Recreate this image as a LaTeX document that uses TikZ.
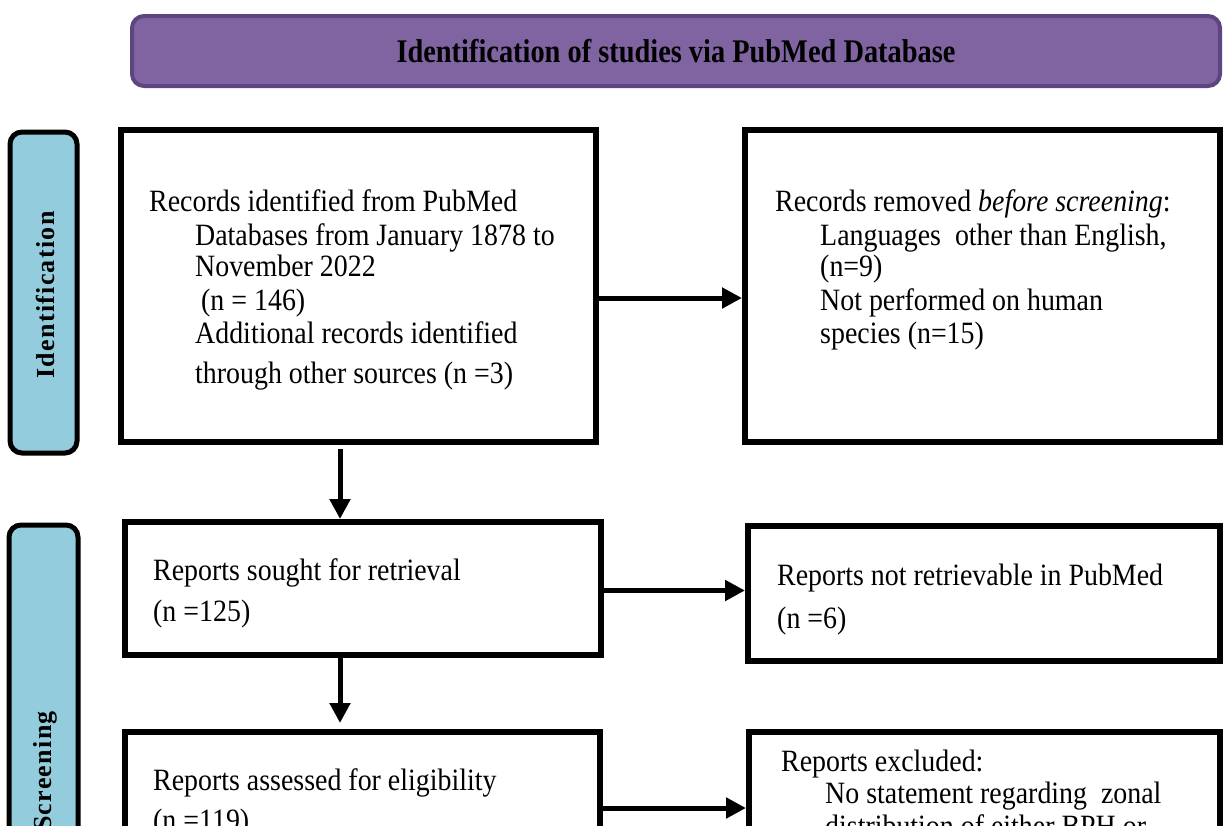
\documentclass[tikz,border=0pt]{standalone}
\usepackage{fontspec}
\setmainfont{Liberation Serif}[FakeStretch=0.9]
\newfontfamily\bannerfont{Liberation Serif}[FakeStretch=0.86]
\newfontfamily\sidefont{Liberation Serif}[LetterSpace=5]
\usetikzlibrary{arrows.meta}
\definecolor{bannerfill}{HTML}{8064A2}
\definecolor{bannerdraw}{HTML}{5C4681}
\definecolor{sidefill}{HTML}{93CDDD}
\tikzset{
  flowbox/.style={draw=black, line width=6pt, fill=white, inner sep=0pt},
  sidebox/.style={draw=black, line width=5pt, fill=sidefill, rounded corners=12pt, inner sep=0pt},
  banner/.style={draw=bannerdraw, line width=4pt, fill=bannerfill, rounded corners=12pt, inner sep=0pt,
     font=\bannerfont\bfseries\fontsize{33}{36}\selectfont},
  txt/.style={anchor=base west, inner sep=0pt, font=\fontsize{31}{34}\selectfont},
  sidetxt/.style={rotate=90, inner sep=0pt, font=\sidefont\bfseries\fontsize{26}{30}\selectfont},
  arr/.style={line width=5pt, -{Triangle[length=20pt,width=20pt]}},
}
\begin{document}
\begin{tikzpicture}[x=1pt,y=-1pt]
\useasboundingbox (0,0) rectangle (1225,825);
\clip (0,0) rectangle (1225,825);
\fill[white] (0,0) rectangle (1225,825);

% banner
\node[banner, minimum width=1088pt, minimum height=70pt] (ban) at (676,51) {Identification of studies via PubMed Database};

% side labels
\node[sidebox, minimum width=67pt, minimum height=321pt] (lab1) at (43.5,292.5) {};
\node[sidetxt] (lab1t) at (45,295) {Identification};
\node[sidebox, minimum width=69pt, minimum height=505pt] (lab2) at (43.5,777.5) {};
\node[sidetxt] (lab2t) at (45,771) {Screening};

% boxes
\node[flowbox, minimum width=475pt, minimum height=312pt] (b1) at (358,286) {};
\node[flowbox, minimum width=475pt, minimum height=312pt] (b2) at (982.5,286) {};
\node[flowbox, minimum width=476pt, minimum height=133pt] (b3) at (363,588.5) {};
\node[flowbox, minimum width=472pt, minimum height=135pt] (b4) at (984,593.5) {};
\node[flowbox, minimum width=475pt, minimum height=228pt] (b5) at (362.5,846) {};
\node[flowbox, minimum width=471pt, minimum height=228pt] (b6) at (984.5,846) {};

% texts box1
\node[txt] (t1a) at (149,211) {Records identified from PubMed};
\node[txt] (t1b) at (195,245) {Databases from January 1878 to};
\node[txt] (t1c) at (195,276) {November 2022};
\node[txt] (t1d) at (201,310) {(n = 146)};
\node[txt] (t1e) at (195,343) {Additional records identified};
\node[txt] (t1f) at (195,383) {through other sources (n =3)};

% texts box2
\node[txt] (t2a) at (775,211) {Records removed \textit{before screening}:};
\node[txt] (t2b) at (820,245) {Languages\ \ other than English,};
\node[txt] (t2c) at (820,276) {(n=9)};
\node[txt] (t2d) at (820,310) {Not performed on human};
\node[txt] (t2e) at (820,343) {species (n=15)};

% texts box3, box4
\node[txt] (t3a) at (153,580) {Reports sought for retrieval};
\node[txt] (t3b) at (153,621) {(n =125)};
\node[txt] (t4a) at (777,585) {Reports not retrievable\ in PubMed};
\node[txt] (t4b) at (777,628) {(n =6)};

% texts box5, box6
\node[txt] (t5a) at (153,790) {Reports assessed for eligibility};
\node[txt] (t5b) at (153,830) {(n =119)};
\node[txt] (t6a) at (781,771) {Reports excluded:};
\node[txt] (t6b) at (825,803) {No statement regarding\ \ zonal};
\node[txt] (t6c) at (825,836) {distribution of either BPH or};

% arrows
\draw[arr] ([yshift=-12pt]b1.east) -- ([yshift=-12pt]b2.west);
\draw[arr] ([xshift=-18pt,yshift=-4pt]b1.south) -- ([xshift=-23pt]b3.north);
\draw[arr] ([yshift=-2pt]b3.east) -- ([yshift=-2pt]b4.west |- b3.east);
\draw[arr] ([xshift=-23pt]b3.south) -- ([xshift=-22.5pt,yshift=6pt]b5.north);
\draw[arr] ([yshift=38pt]b5.east) -- ([yshift=38pt]b6.west);
\end{tikzpicture}
\end{document}
